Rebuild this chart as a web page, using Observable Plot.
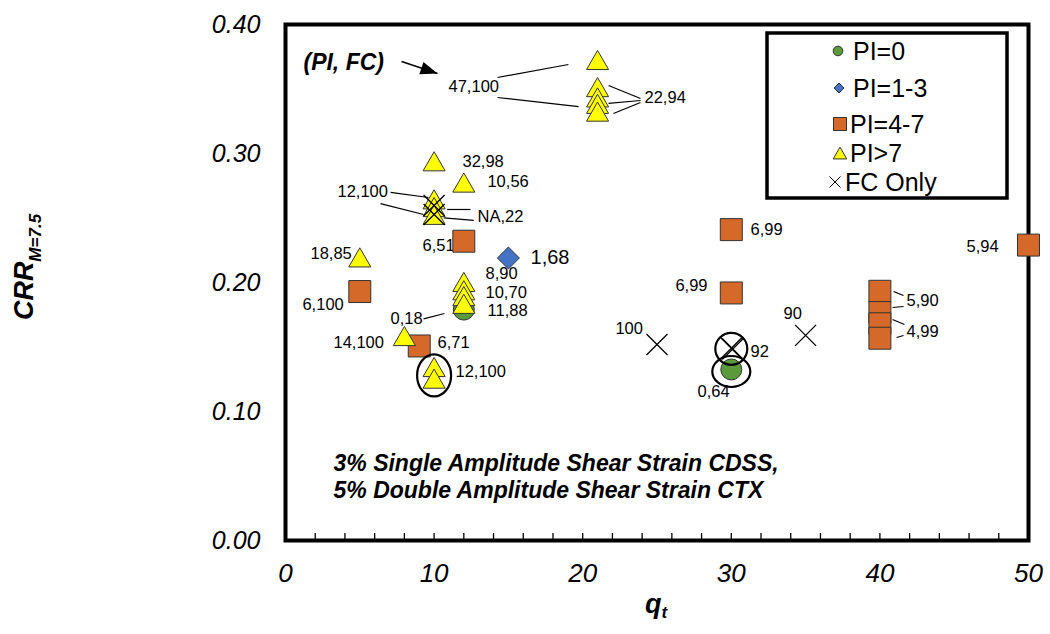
<!DOCTYPE html>
<html>
<head>
<meta charset="utf-8">
<script src="https://cdn.jsdelivr.net/npm/d3@7"></script>
<script src="https://cdn.jsdelivr.net/npm/@observablehq/plot@0.6"></script>
<style>
  html, body { margin: 0; padding: 0; background: white; }
  svg { display: block; }
</style>
</head>
<body>
<div id="chart"></div>
<script>
// ---------- data (q_t, CRR) ----------
const pi0Qt  = [12, 30];
const pi0Crr = [0.179, 0.1326];

const pi13Qt  = [15];
const pi13Crr = [0.219];

const pi47Qt  = [12, 5, 9, 30, 30, 40, 40, 40, 40, 50];
const pi47Crr = [0.232, 0.193, 0.1508, 0.241, 0.1919, 0.1932, 0.1767, 0.168, 0.1568, 0.229];

const piGt7Qt  = [21, 21, 21, 21, 21, 10, 12, 10, 10, 10, 5, 12, 12, 12, 12, 8, 10, 10];
const piGt7Crr = [0.370, 0.349, 0.341, 0.336, 0.330, 0.2915, 0.275, 0.262, 0.256, 0.250, 0.217, 0.198, 0.1915, 0.187, 0.181, 0.156, 0.132, 0.123];

const fcQt  = [10, 10, 25, 30, 30.1, 35];
const fcCrr = [0.2597, 0.2527, 0.152, 0.149, 0.1484, 0.159];

// circled points
const circledQt  = [10, 30, 30];
const circledCrr = [0.128, 0.1486, 0.131];

// point labels (PI, FC)
const labelText = ["47,100", "22,94", "32,98", "10,56", "12,100", "NA,22", "6,51", "18,85",
                   "8,90", "10,70", "11,88", "0,18", "6,100", "14,100", "6,71", "12,100",
                   "6,99", "6,99", "100", "92", "0,64", "90", "5,94", "5,90", "4,99"];
const labelQt   = [10.97, 24.16, 11.91, 13.59, 3.5, 12.92, 9.22, 1.68,
                   13.46, 13.46, 13.6, 7.07, 1.14, 3.23, 10.23, 11.44,
                   31.29, 26.24, 22.2, 31.29, 27.73, 33.51, 45.83, 41.79, 41.79];
const labelCrr  = [0.3514, 0.3434, 0.294, 0.2778, 0.270, 0.2512, 0.2287, 0.2222,
                   0.2068, 0.1918, 0.1778, 0.1718, 0.183, 0.1537, 0.1537, 0.1305,
                   0.2408, 0.1977, 0.1641, 0.146, 0.115, 0.1757, 0.2279, 0.1855, 0.162];

const bigLabelText = ["1,68"];
const bigLabelQt   = [16.49];
const bigLabelCrr  = [0.2196];

// leader lines
const leadQt1  = [14.27, 14.27, 21.74, 21.74, 22.07, 7.07, 6.39, 10.88, 10.65, 9.29, 40.92, 40.85, 40.85, 41.12];
const leadCrr1 = [0.3589, 0.3434, 0.3527, 0.3388, 0.3310, 0.2698, 0.2612, 0.2566, 0.2501, 0.1718, 0.1930, 0.1806, 0.1713, 0.1574];
const leadQt2  = [19.04, 19.72, 23.89, 23.89, 23.89, 9.62, 9.29, 12.45, 12.67, 10.7, 41.59, 41.59, 41.65, 41.59];
const leadCrr2 = [0.369, 0.3364, 0.3426, 0.3411, 0.3395, 0.2659, 0.2527, 0.2566, 0.2481, 0.1760, 0.1899, 0.1814, 0.1674, 0.1589];

// annotation "(PI, FC)" and arrow
const noteText = ["(PI, FC)"];
const noteQt = [1.21];
const noteCrr = [0.3705];
const arrowQt  = [7.81, 10.23];
const arrowCrr = [0.3713, 0.362];

const testText = ["3% Single Amplitude Shear Strain CDSS,", "5% Double Amplitude Shear Strain CTX"];
const testQt   = [3.23, 3.23];
const testCrr  = [0.0597, 0.0388];

const yTicks = [0, 0.1, 0.2, 0.3, 0.4];
const xTicks = [0, 10, 20, 30, 40, 50];
const xMinorTicks = d3.range(0, 51, 2);

const legendLabels = ["PI=0", "PI=1-3", "PI=4-7", "PI>7", "FC Only"];

// ---------- layout ----------
const W = 1050, H = 634, mL = 285, mR = 22, mT = 24, mB = 94;
const FONT = "'Liberation Sans', Arial, Helvetica, sans-serif";
const cYellow = "#ffff00", cOrange = "#d4692a", cGreen = "#5b9a3b", cBlue = "#4472c4", cEdge = "#333";

function ellipseSymbol(rx, ry) {
  const k = 0.5523;
  return {draw(ctx) {
    ctx.moveTo(rx, 0);
    ctx.bezierCurveTo(rx, k * ry, k * rx, ry, 0, ry);
    ctx.bezierCurveTo(-k * rx, ry, -rx, k * ry, -rx, 0);
    ctx.bezierCurveTo(-rx, -k * ry, -k * rx, -ry, 0, -ry);
    ctx.bezierCurveTo(k * rx, -ry, rx, -k * ry, rx, 0);
    ctx.closePath();
  }};
}
function arrowHeadSymbol(angle, len, wid) {
  const c = Math.cos(angle), s = Math.sin(angle);
  const pt = (x, y) => [x * c - y * s, x * s + y * c];
  return {draw(ctx) {
    const a = pt(0, 0), b = pt(-len, wid / 2), d = pt(-len, -wid / 2);
    ctx.moveTo(a[0], a[1]); ctx.lineTo(b[0], b[1]); ctx.lineTo(d[0], d[1]); ctx.closePath();
  }};
}
const kx = (W - mL - mR) / 50, ky = (H - mT - mB) / 0.4;
const arrowAngle = Math.atan2(-(arrowCrr[1] - arrowCrr[0]) * ky, (arrowQt[1] - arrowQt[0]) * kx);

const chart = Plot.plot({
  width: W, height: H,
  marginLeft: mL, marginRight: mR, marginTop: mT, marginBottom: mB,
  style: {fontFamily: FONT, background: "white", overflow: "visible", color: "black"},
  x: {domain: [0, 50]},
  y: {domain: [0, 0.4]},
  marks: [
    Plot.frame({stroke: "black", strokeWidth: 4}),
    Plot.axisX({ticks: xMinorTicks, tickSize: 7, dy: -7, tickFormat: () => "", label: null, strokeWidth: 1.3}),
    Plot.axisX({ticks: xTicks, tickSize: 0, tickPadding: 23, fontSize: 26, fontStyle: "italic", label: null}),
    Plot.axisY({ticks: yTicks, tickSize: 0, tickPadding: 25, fontSize: 25, fontStyle: "italic", tickFormat: d3.format(".2f"), label: null}),
    // labels
    Plot.text(labelText, {x: labelQt, y: labelCrr, text: d => d, textAnchor: "start", fontSize: 16.5, fill: "black"}),
    Plot.text(bigLabelText, {x: bigLabelQt, y: bigLabelCrr, text: d => d, textAnchor: "start", fontSize: 20, fill: "black"}),
    Plot.text(noteText, {x: noteQt, y: noteCrr, text: d => d, textAnchor: "start", fontSize: 23, fontWeight: "bold", fontStyle: "italic"}),
    Plot.text(testText, {x: testQt, y: testCrr, text: d => d, textAnchor: "start", fontSize: 23, fontWeight: "bold", fontStyle: "italic"}),
    // leader lines
    Plot.link(leadQt1, {x1: leadQt1, y1: leadCrr1, x2: leadQt2, y2: leadCrr2, stroke: "black", strokeWidth: 1.2}),
    // arrow
    Plot.link([0], {x1: [arrowQt[0]], y1: [arrowCrr[0]], x2: [arrowQt[1]], y2: [arrowCrr[1]], stroke: "black", strokeWidth: 1.5}),
    Plot.dot([0], {x: [arrowQt[1]], y: [arrowCrr[1]], symbol: arrowHeadSymbol(arrowAngle, 17, 13), r: 1, fill: "black", stroke: "none"}),
    // markers
    Plot.dot(pi0Qt, {x: pi0Qt, y: pi0Crr, symbol: "circle", r: 10.5, fill: cGreen, stroke: cEdge, strokeWidth: 1}),
    Plot.dot(pi47Qt, {x: pi47Qt, y: pi47Crr, symbol: "square", r: 12.4, fill: cOrange, stroke: cEdge, strokeWidth: 1}),
    Plot.dot(pi13Qt, {x: pi13Qt, y: pi13Crr, symbol: "diamond2", r: 9.9, fill: cBlue, stroke: cEdge, strokeWidth: 1}),
    Plot.dot(piGt7Qt, {x: piGt7Qt, y: piGt7Crr, symbol: "triangle", r: 8.2, fill: cYellow, stroke: cEdge, strokeWidth: 1}),
    Plot.dot(fcQt, {x: fcQt, y: fcCrr, symbol: "times", r: 9.6, stroke: "black", strokeWidth: 1.3}),
    // circled points
    Plot.dot([0], {x: [circledQt[0]], y: [circledCrr[0]], symbol: ellipseSymbol(17, 21), r: 1, fill: "none", stroke: "black", strokeWidth: 2.2}),
    Plot.dot([0], {x: [circledQt[1]], y: [circledCrr[1]], symbol: ellipseSymbol(16, 16), r: 1, fill: "none", stroke: "black", strokeWidth: 2.2}),
    Plot.dot([0], {x: [circledQt[2]], y: [circledCrr[2]], symbol: ellipseSymbol(19, 15.5), r: 1, fill: "none", stroke: "black", strokeWidth: 2.2})
  ]
});

const svg = d3.select(chart);
svg.selectAll('[aria-label="y-axis tick label"] text, [aria-label="x-axis tick label"] text').style("font-style", "italic");

// y-axis title with subscript
const yt = svg.append("text")
  .attr("transform", "translate(33,267) rotate(-90)")
  .attr("text-anchor", "middle")
  .style("font-family", FONT).style("font-weight", "bold").style("font-style", "italic")
  .style("font-size", "27px").attr("fill", "black");
yt.append("tspan").text("CRR");
yt.append("tspan").attr("dy", 8).style("font-size", "17px").text("M=7.5");

// x-axis title with subscript
const xt = svg.append("text")
  .attr("x", 656).attr("y", 613)
  .attr("text-anchor", "middle")
  .style("font-family", FONT).style("font-weight", "bold").style("font-style", "italic")
  .style("font-size", "27px").attr("fill", "black");
xt.append("tspan").text("q");
xt.append("tspan").attr("dy", 5).style("font-size", "17px").text("t");

// legend
const lg = svg.append("g").attr("aria-label", "legend").attr("text-anchor", "start");
lg.append("rect").attr("x", 767).attr("y", 33).attr("width", 240).attr("height", 165)
  .attr("fill", "white").attr("stroke", "black").attr("stroke-width", 3.5);
const rowsY = [51, 88, 124, 153, 182];
const symX = [838, 839, 840, 840, 835];
const txtX = [853, 853, 850, 850, 845];
const legendSyms = [
  {type: d3.symbolCircle, size: Math.PI * 4.8 * 4.8, fill: cGreen, stroke: cEdge},
  {type: d3.symbolDiamond2, size: Math.pow(5 / 0.62625, 2), fill: cBlue, stroke: cEdge},
  {type: d3.symbolSquare, size: 13 * 13, fill: cOrange, stroke: cEdge},
  {type: d3.symbolTriangle, size: 80, fill: cYellow, stroke: cEdge},
  {type: d3.symbolTimes, size: 80, fill: "none", stroke: "black"}
];
legendLabels.forEach((lab, i) => {
  const s = legendSyms[i];
  lg.append("path")
    .attr("d", d3.symbol(s.type, s.size)())
    .attr("transform", `translate(${symX[i]},${rowsY[i] + (i === 3 ? 2 : 0)})`)
    .attr("fill", s.fill).attr("stroke", s.stroke).attr("stroke-width", 1);
  lg.append("text").attr("x", txtX[i]).attr("y", rowsY[i]).attr("dy", "0.36em")
    .attr("text-anchor", "start")
    .style("font-family", FONT).style("font-size", "25px").attr("fill", "black").text(lab);
});

document.getElementById("chart").appendChild(chart);
</script>
</body>
</html>
